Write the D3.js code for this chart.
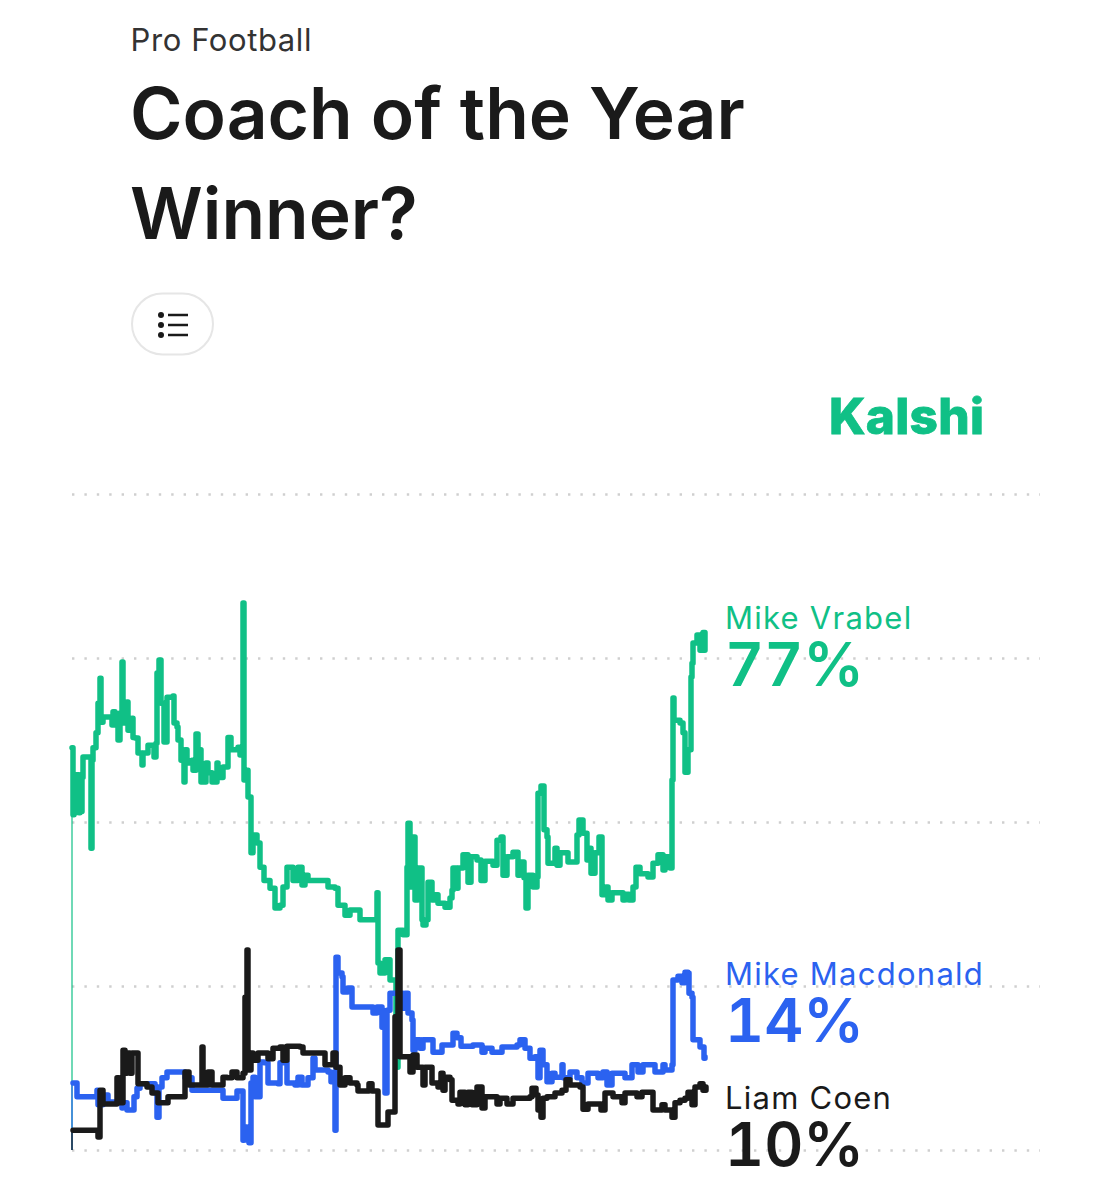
<!DOCTYPE html>
<html>
<head>
<meta charset="utf-8">
<script src="https://cdn.jsdelivr.net/npm/d3@7"></script>
<style>
  html, body { margin: 0; background: #fff; }
  text { font-family: Inter, sans-serif; }
</style>
</head>
<body>
<div id="canvas"></div>
<script>
// [time step, percent]
var vrabel = [[0,61.3],[1,51.1],[2,57.2],[3,51.4],[4,57.2],[5,51.6],[6,57.2],[7,51.4],[8,56.8],[9,51.6],[10,56.8],[11,59.9],[18,59.9],[19,46.0],[20,59.4],[21,61.3],[24,63.6],[26,68.1],[28,71.9],[29,65.2],[31,66.0],[38,66.0],[40,64.8],[41,66.8],[43,64.8],[46,62.5],[48,66.6],[50,74.4],[51,65.1],[55,68.3],[56,64.0],[60,65.8],[61,62.9],[63,62.8],[66,60.5],[70,58.7],[71,60.5],[76,61.7],[80,61.7],[82,59.9],[84,62.0],[85,72.7],[87,74.7],[89,68.1],[92,62.2],[95,69.0],[101,69.2],[102,65.1],[105,64.5],[106,62.5],[109,59.4],[112,56.1],[113,61.0],[115,59.0],[120,59.4],[121,57.9],[124,63.4],[126,61.0],[129,56.1],[134,59.0],[136,57.5],[140,56.1],[145,59.0],[146,56.8],[151,58.4],[156,62.9],[159,61.0],[166,61.4],[168,60.2],[171,83.4],[172,56.4],[175,57.9],[176,53.8],[179,45.3],[181,48.0],[185,46.8],[188,43.1],[192,41.1],[198,39.9],[203,36.9],[208,37.3],[211,40.1],[215,43.1],[218,43.1],[221,41.1],[226,43.1],[230,40.4],[233,41.9],[236,41.1],[253,41.1],[256,40.1],[263,39.9],[266,37.3],[273,35.8],[278,36.6],[288,35.1],[303,35.1],[305,39.2],[306,28.5],[308,27.0],[313,29.0],[318,25.9],[324,12.6],[326,33.5],[331,32.8],[335,43.1],[336,49.8],[338,40.1],[340,47.7],[343,38.1],[346,43.0],[350,35.1],[351,34.3],[354,35.1],[356,40.8],[360,38.1],[363,38.9],[366,37.6],[373,37.0],[378,38.4],[380,39.6],[381,43.0],[385,39.9],[386,43.0],[391,45.0],[396,40.8],[399,44.7],[405,44.2],[409,41.1],[413,44.0],[421,43.4],[425,47.2],[429,47.7],[431,41.9],[435,44.7],[441,45.4],[446,41.9],[448,43.9],[452,41.5],[454,36.9],[456,41.9],[461,40.1],[465,41.6],[466,54.4],[469,55.5],[472,48.8],[475,47.7],[476,43.7],[483,46.0],[485,43.4],[488,45.3],[496,43.9],[505,48.0],[507,50.3],[511,48.3],[515,44.2],[517,46.0],[519,42.2],[523,45.3],[527,47.7],[530,38.9],[534,40.1],[536,38.1],[540,39.2],[550,39.2],[551,38.1],[553,39.0],[557,38.1],[561,40.1],[564,43.1],[568,42.1],[576,41.6],[581,43.7],[586,45.0],[591,42.7],[593,44.7],[598,43.0],[600,56.4],[601,68.9],[602,65.5],[608,65.1],[611,63.6],[613,57.6],[616,61.0],[619,72.1],[620,74.2],[621,77.3],[625,78.5],[628,76.2],[631,78.9],[633,76.2]];

var macdonald = [[1,10.2],[5,10.2],[5,8.1],[23,8.1],[25,9.1],[26,6.9],[31,8.4],[36,7.3],[45,7.2],[50,6.4],[51,7.2],[55,6.1],[60,6.1],[62,8.1],[65,9.4],[68,10.1],[80,10.1],[83,8.7],[85,5.0],[87,9.6],[90,11.0],[95,11.9],[111,11.9],[113,11.0],[120,9.1],[125,9.1],[150,9.1],[151,7.9],[163,7.9],[165,9.0],[170,9.0],[171,1.5],[172,3.5],[175,1.5],[177,1.1],[179,10.2],[181,11.1],[183,8.1],[186,8.1],[188,13.4],[192,13.3],[196,10.2],[206,10.1],[208,13.3],[213,13.3],[215,10.2],[223,9.9],[226,11.1],[230,9.9],[236,11.0],[241,11.0],[241,14.0],[243,12.2],[256,11.9],[259,10.4],[263,9.6],[263,3.0],[264,29.4],[266,27.0],[270,26.4],[271,24.1],[276,24.7],[280,21.8],[300,21.8],[301,20.9],[305,21.8],[310,18.7],[313,8.7],[315,21.3],[318,23.9],[331,21.6],[333,23.9],[336,20.9],[340,19.8],[341,15.2],[343,16.8],[348,15.5],[351,16.8],[360,16.8],[361,14.9],[366,14.9],[370,16.0],[378,16.0],[381,17.8],[385,17.1],[389,15.8],[401,16.0],[410,14.9],[413,15.5],[420,14.9],[430,15.7],[445,16.0],[448,16.8],[453,15.5],[458,14.0],[463,14.2],[466,11.0],[468,15.2],[471,13.0],[475,10.4],[480,11.7],[483,11.1],[490,13.0],[491,11.0],[498,11.9],[505,11.0],[510,10.2],[516,11.7],[525,11.7],[526,11.0],[531,11.9],[535,9.9],[540,11.7],[550,11.7],[553,11.0],[560,13.0],[566,11.9],[571,13.0],[581,13.0],[583,11.9],[591,13.0],[593,12.2],[600,13.0],[601,25.9],[606,26.5],[610,25.5],[613,27.1],[616,27.0],[617,23.9],[620,23.3],[621,16.8],[628,15.7],[632,14.0],[633,14.2]];

var coen = [[1,3.0],[23,3.0],[26,2.0],[28,9.1],[31,8.7],[31,7.0],[41,7.0],[45,11.0],[47,7.2],[51,15.2],[53,11.7],[55,14.8],[58,11.7],[60,14.8],[65,14.8],[66,10.1],[75,9.6],[80,8.7],[86,7.2],[95,7.2],[96,8.1],[111,8.1],[113,11.9],[116,11.9],[117,9.9],[128,9.9],[130,15.7],[131,9.9],[136,11.9],[140,9.9],[145,9.9],[151,11.1],[155,11.0],[160,11.9],[165,11.0],[171,11.7],[173,23.3],[175,30.5],[176,12.2],[179,14.8],[181,13.7],[186,14.8],[193,14.8],[196,13.9],[201,15.5],[208,15.7],[211,13.7],[215,15.8],[228,15.7],[231,14.8],[251,14.8],[253,13.0],[261,14.8],[264,12.6],[268,9.9],[273,11.0],[278,10.2],[285,9.9],[286,9.0],[296,9.0],[297,10.1],[300,9.0],[304,9.0],[306,3.8],[315,3.8],[316,5.8],[321,5.8],[323,20.3],[326,30.5],[328,14.2],[335,14.2],[338,11.9],[341,14.5],[345,12.6],[351,9.9],[353,12.6],[358,12.6],[360,10.2],[366,9.6],[369,11.7],[371,9.1],[373,11.1],[378,10.7],[380,7.6],[386,7.0],[388,8.8],[393,6.9],[396,8.8],[400,6.9],[405,9.6],[408,9.6],[410,6.4],[413,8.1],[423,8.1],[425,7.0],[428,7.9],[435,7.0],[441,7.9],[458,8.1],[460,9.4],[464,8.4],[466,6.1],[469,5.0],[471,7.9],[475,8.1],[483,8.7],[490,9.1],[494,10.7],[498,9.9],[508,9.6],[511,6.2],[516,7.0],[526,7.0],[529,6.1],[533,8.7],[538,8.7],[541,8.1],[548,8.1],[550,7.2],[553,8.7],[565,8.1],[570,8.8],[578,8.8],[581,6.1],[590,6.9],[593,6.1],[600,5.0],[603,7.2],[608,7.6],[613,7.9],[616,8.8],[620,6.9],[623,9.6],[628,10.1],[631,9.1],[634,9.6]];

var gridTicks = [0, 25, 50, 75, 100];
var names = ['Mike Vrabel', 'Mike Macdonald', 'Liam Coen'];
var latest = ['77%', '14%', '10%'];
var colors = ['#10c086', '#2b62f0', '#1a1a1a'];
var seriesList = [vrabel, macdonald, coen];

var svg = d3.select('#canvas').append('svg')
  .attr('width', 1116)
  .attr('height', 1200)
  .style('display', 'block');

var x = d3.scaleLinear().domain([0, 633]).range([72, 705]);
var y = d3.scaleLinear().domain([0, 100]).range([1150, 494]);

// header
svg.append('text').attr('x', 130.5).attr('y', 51)
  .attr('font-size', 31).attr('letter-spacing', 0.6).attr('fill', '#333').text('Pro Football');
svg.append('text').attr('x', 130).attr('y', 139)
  .attr('font-size', 71.3).attr('font-weight', 600).attr('fill', '#1a1a1a').text('Coach of the Year');
svg.append('text').attr('x', 130).attr('y', 239)
  .attr('font-size', 71.3).attr('font-weight', 600).attr('fill', '#1a1a1a').text('Winner?');

// list button
var btn = svg.append('g');
btn.append('rect').attr('x', 132).attr('y', 293.5).attr('width', 81).attr('height', 61).attr('rx', 30.5)
  .attr('fill', '#fff').attr('stroke', '#e6e6e6').attr('stroke-width', 2);
[315, 325, 335].forEach(function(cy) {
  btn.append('circle').attr('cx', 161).attr('cy', cy).attr('r', 3).attr('fill', '#1a1a1a');
  btn.append('line').attr('x1', 168).attr('x2', 188).attr('y1', cy).attr('y2', cy)
    .attr('stroke', '#1a1a1a').attr('stroke-width', 2.5);
});

svg.append('text').attr('x', 829).attr('y', 434)
  .attr('font-size', 49.5).attr('font-weight', 800).attr('letter-spacing', 0.3)
  .attr('stroke', colors[0]).attr('stroke-width', 0.8)
  .attr('fill', colors[0]).text('Kalshi');

// dotted grid
var grid = svg.append('g').attr('transform', 'translate(72,0)')
  .call(d3.axisRight(y).tickValues(gridTicks).tickSize(968).tickFormat(''));
grid.select('.domain').remove();
grid.selectAll('line')
  .attr('stroke', '#cfcfcf').attr('stroke-width', 2.4).attr('stroke-dasharray', '2.4 10');

var line = d3.line()
  .x(function(d) { return x(d[0]) })
  .y(function(d) { return y(d[1]) })
  .curve(d3.curveStepAfter);

// thin rise from zero at the first step
seriesList.forEach(function(s, i) {
  svg.append('line')
    .attr('x1', x(0)).attr('x2', x(0))
    .attr('y1', y(0)).attr('y2', y(s[0][1]))
    .attr('stroke', colors[i]).attr('stroke-width', 2).attr('opacity', 0.6);
});

svg.selectAll('path.series')
  .data(seriesList)
  .enter()
  .append('path')
    .attr('class', 'series')
    .attr('d', line)
    .attr('fill', 'none')
    .attr('stroke', function(d, i) { return colors[i] })
    .attr('stroke-width', 5.5)
    .attr('stroke-linejoin', 'round')
    .attr('stroke-linecap', 'round');

// end labels
var labelY = [629, 985, 1109];
names.forEach(function(n, i) {
  svg.append('text').attr('x', 725).attr('y', labelY[i])
    .attr('font-size', 31).attr('letter-spacing', 1.25).attr('fill', colors[i]).text(n);
  svg.append('text').attr('x', 725).attr('y', labelY[i] + 57)
    .attr('font-size', 60.5).attr('font-weight', 600)
    .style('font-variant-numeric', 'tabular-nums').attr('fill', colors[i]).text(latest[i]);
});
</script>
</body>
</html>
